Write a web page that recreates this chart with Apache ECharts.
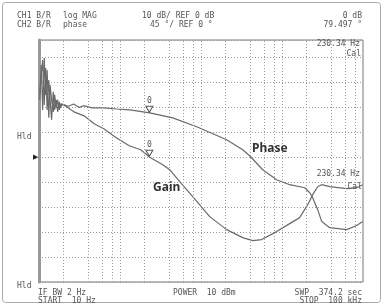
<!DOCTYPE html>
<html>
<head>
<meta charset="utf-8">
<script src="https://cdn.jsdelivr.net/npm/echarts@6/dist/echarts.min.js"></script>
<style>
  html, body { margin: 0; padding: 0; background: #fff; }
  #chart { width: 384px; height: 306px; }
</style>
</head>
<body>
<div id="chart"></div>
<script>
// 扫频数据 (读自截图) 10 Hz - 100 kHz
var gainFreq = [10.2, 10.65, 11.1, 11.6, 12.1, 12.6, 13.2, 13.7, 14.3, 15.0, 15.6, 16.3, 17.0, 17.8, 18.5, 19.3,
  20, 27, 36, 48, 63, 90, 130, 180, 233, 337, 411, 560, 790, 1280, 2075, 3270, 4350, 5610, 8590,
  12440, 16520, 20760, 23930, 27600, 30930, 38820, 62950, 83600, 99000];
var gainDb = [23, 37, 19, 39.8, 25, 35, 15.8, 29, 23, 18.2, 25, 19.8, 23, 19, 21.4, 20.6,
  21, 18.2, 16.6, 13.4, 11.4, 7.8, 4.6, 3, 0, -3, -5, -10.2, -15.8, -23.8, -29, -32.2, -33.4, -33, -29.8,
  -26.6, -24.2, -19, -15, -11.8, -11, -11.8, -12.6, -12.2, -11];

var phaseFreq = [10.2, 10.65, 11.1, 11.6, 12.1, 12.6, 13.2, 13.7, 14.3, 15.0, 15.6, 16.3, 17.0, 17.8, 18.5, 19.3,
  20.2, 23, 26.8, 31, 35.6, 45, 63, 90, 132, 233, 448, 885, 2075, 3270, 3990, 5780, 8590,
  12440, 19100, 22000, 23930, 27600, 30930, 38820, 62950, 83600, 99000];
var phaseDeg = [112.5, 148.5, 175.5, 94.5, 161, 85.5, 139.5, 103.5, 67.5, 118, 85.5, 103.5, 82, 100, 89, 96,
  98, 92, 96, 90, 93, 89, 89, 87, 85.5, 80, 71, 55, 31.5, 13.5, 2.7, -22.5, -40.5,
  -49.5, -55, -64, -73, -94.5, -116, -127, -130.5, -123, -116];

// 竖直网格 (2,4,6,8,10 每个十倍频)
var gridFreqs = [20, 40, 60, 80, 100, 200, 400, 600, 800, 1000, 2000, 4000, 6000, 8000, 10000,
  20000, 40000, 60000, 80000];

var markerFreq = 230.34;
var markerGain = 0;
var markerPhase = 79.497;

function pairs(xs, ys) {
  var out = [];
  for (var i = 0; i < xs.length; i++) out.push([xs[i], ys[i]]);
  return out;
}

var mono = 'DejaVu Sans Mono';
function txt(text, x, y, align, opt) {
  opt = opt || {};
  return {
    type: 'text', silent: true, z: 10,
    style: {
      text: text, x: x, y: y,
      fill: opt.fill || '#555',
      font: opt.font || ('8px "' + mono + '"'),
      textAlign: align || 'left', align: align || 'left',
      textVerticalAlign: 'middle', verticalAlign: 'middle'
    }
  };
}

var chart = echarts.init(document.getElementById('chart'));
chart.setOption({
  animation: false,
  backgroundColor: '#fff',
  grid: { left: 39, right: 21, top: 40, bottom: 24, show: true, borderColor: '#777', borderWidth: 1 },
  xAxis: {
    type: 'log', logBase: 10, min: 10, max: 100000,
    axisLine: { show: false }, axisTick: { show: false }, axisLabel: { show: false },
    splitLine: { show: false }
  },
  yAxis: [{
    type: 'value', min: -50, max: 47, interval: 10,
    axisLine: { show: true, lineStyle: { color: '#999', width: 3 } },
    axisTick: { show: false }, axisLabel: { show: false },
    splitLine: { show: true, lineStyle: { color: '#999', type: [1, 2], width: 1 } }
  }, {
    type: 'value', min: -225, max: 211.5, interval: 45, show: false,
    splitLine: { show: false }
  }],
  series: [{
    name: 'Gain', type: 'line', yAxisIndex: 0,
    data: pairs(gainFreq, gainDb),
    showSymbol: false, symbol: 'none',
    lineStyle: { color: '#6a6a6a', width: 1.2 },
    markLine: {
      silent: true, symbol: 'none', label: { show: false },
      lineStyle: { color: '#999', type: [1, 2], width: 1 },
      data: gridFreqs.map(function (f) { return { xAxis: f }; })
    },
    markPoint: {
      silent: true,
      symbol: 'triangle', symbolRotate: 180, symbolSize: [7, 6], symbolOffset: [0, -4],
      itemStyle: { color: '#fff', borderColor: '#555', borderWidth: 1 },
      label: { show: true, position: 'top', distance: 1, formatter: '0', color: '#555', fontSize: 8, fontFamily: mono },
      data: [{ coord: [markerFreq, markerGain] }]
    }
  }, {
    name: 'Phase', type: 'line', yAxisIndex: 1,
    data: pairs(phaseFreq, phaseDeg),
    showSymbol: false, symbol: 'none',
    lineStyle: { color: '#6a6a6a', width: 1.2 },
    markPoint: {
      silent: true,
      symbol: 'triangle', symbolRotate: 180, symbolSize: [7, 6], symbolOffset: [0, -4],
      itemStyle: { color: '#fff', borderColor: '#555', borderWidth: 1 },
      label: { show: true, position: 'top', distance: 1, formatter: '0', color: '#555', fontSize: 8, fontFamily: mono },
      data: [{ coord: [markerFreq, markerPhase] }]
    }
  }],
  graphic: [
    { type: 'rect', silent: true, shape: { x: 2.5, y: 2.5, width: 378, height: 300, r: 3 },
      style: { fill: 'none', stroke: '#aaa', lineWidth: 1 } },
    txt('CH1 B/R', 17, 15.5), txt('log MAG', 63, 15.5),
    txt('10 dB/ REF 0 dB', 142, 15.5), txt('0 dB', 362, 15.5, 'right'),
    txt('CH2 B/R', 17, 25), txt('phase', 63, 25),
    txt('45 \u00b0/ REF 0 \u00b0', 150, 25), txt('79.497 \u00b0', 362, 25, 'right'),
    txt('230.34 Hz', 360, 44, 'right'), txt('Cal', 361, 53.5, 'right'),
    txt('230.34 Hz', 360, 174, 'right'), txt('Cal', 362, 186.5, 'right'),
    txt('Hld', 17, 137), txt('Hld', 17, 286),
    txt('\u25b6', 33, 157.5, 'left', { fill: '#222', font: '7px "DejaVu Sans"' }),
    txt('IF BW 2 Hz', 38, 293), txt('START  10 Hz', 38, 301),
    txt('POWER  10 dBm', 173, 293),
    txt('SWP  374.2 sec', 362, 293, 'right'), txt('STOP  100 kHz', 362, 301, 'right'),
    txt('Phase', 252, 149, 'left', { fill: '#333', font: 'bold 12px "Noto Sans"' }),
    txt('Gain', 153, 188, 'left', { fill: '#333', font: 'bold 12px "Noto Sans"' })
  ]
});
</script>
</body>
</html>
